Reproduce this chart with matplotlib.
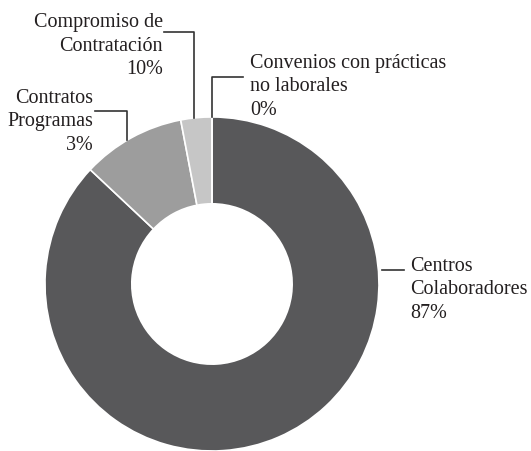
import matplotlib.pyplot as plt
import numpy as np

# datos del gráfico (tamaño de cada porción tal como se ve)
categorias = ['Centros\nColaboradores', 'Contratos\nProgramas',
              'Compromiso de\nContratación', 'Convenios con prácticas\nno laborales']
valores = [87, 10, 3, 0]
etiquetas_pct = ['87%', '3%', '10%', '0%']
colores = ['#58585a', '#9d9d9d', '#c6c6c6', '#dcdcdc']

plt.rcParams['font.family'] = ['Liberation Serif', 'DejaVu Serif']

fig = plt.figure(figsize=(5.31, 4.52), dpi=100)
ax = fig.add_axes([0.0847, 0.0, 0.629, 0.739])

wedges, _ = ax.pie(valores, colors=colores, startangle=90, counterclock=False,
                   radius=1.0, wedgeprops=dict(width=0.52, edgecolor='white', linewidth=1.2))
ax.set_xlim(-1, 1)
ax.set_ylim(-1, 1)
ax.set_aspect('equal')
ax.axis('off')

# lineas guia y textos: (x de la linea, codo, fin, posicion texto, alineacion)
def borde(x):
    return np.sqrt(1 - x ** 2)

guias = [
    ([(1.02, 0.084), (1.15, 0.084)], (1.186, -0.03), 'left'),
    ([(-0.509, borde(-0.509)), (-0.509, 1.036), (-0.70, 1.036)], (-0.713, 0.976), 'right'),
    ([(-0.108, borde(-0.108)), (-0.108, 1.509), (-0.287, 1.509)], (-0.293, 1.431), 'right'),
    ([(0.0, 1.0), (0.0, 1.24), (0.186, 1.24)], (0.228, 1.186), 'left'),
]

for cat, pct, (pts, pos, ha) in zip(categorias, etiquetas_pct, guias):
    xs, ys = zip(*pts)
    ax.plot(xs, ys, color='#333333', lw=1.2, clip_on=False)
    ax.text(pos[0], pos[1], cat + '\n' + pct, ha=ha, va='center', multialignment=ha,
            fontsize=14.5, color='#231f20', linespacing=1.31, clip_on=False)

fig.savefig('out.png', dpi=100)
